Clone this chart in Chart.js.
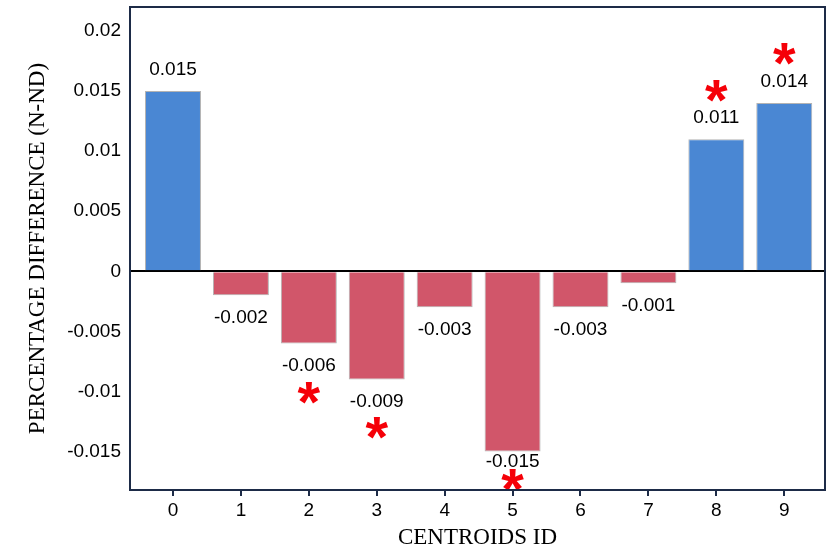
<!DOCTYPE html>
<html>
<head>
<meta charset="utf-8">
<script src="https://cdn.jsdelivr.net/npm/chart.js@4"></script>
<style>
  html, body { margin: 0; padding: 0; background: #fff; }
  #wrap { width: 836px; height: 553px; }
</style>
</head>
<body>
<div id="wrap"><canvas id="grafico" width="836" height="553"></canvas></div>
<script>
// datos
const centroides = [0, 1, 2, 3, 4, 5, 6, 7, 8, 9];
const diferencias = [0.015, -0.002, -0.006, -0.009, -0.003, -0.015, -0.003, -0.001, 0.011, 0.014];
const etiquetas = ['0.015', '-0.002', '-0.006', '-0.009', '-0.003', '-0.015', '-0.003', '-0.001', '0.011', '0.014'];
// posicion (en unidades del eje y) de los asteriscos de significancia, null = sin asterisco
const asteriscos = [null, null, -0.0101, -0.0130, null, -0.0174, null, null, 0.0150, 0.0181];
const ticksY = [0.02, 0.015, 0.01, 0.005, 0, -0.005, -0.01, -0.015];
const ticksX = [0, 1, 2, 3, 4, 5, 6, 7, 8, 9];

const AZUL = '#4a87d3';
const ROJO = '#d1566a';
const MARCO = '#1d2b47';
const FUENTE = '"Liberation Sans", Arial, sans-serif';
const FUENTE_TITULO = '"Liberation Serif", "Times New Roman", serif';

// ==================== PLUGIN: MARCO, ETIQUETAS Y ASTERISCOS ====================
const pluginExtras = {
    id: 'extras',
    afterDatasetsDraw(chart) {
        const ctx = chart.ctx;
        const area = chart.chartArea;
        const meta = chart.getDatasetMeta(0);
        const sx = chart.scales.x;
        const sy = chart.scales.y;

        ctx.save();
        // etiquetas de valor (las de abajo no bajan de cierto limite para no pisar el eje)
        ctx.font = '19px ' + FUENTE;
        ctx.fillStyle = '#000';
        ctx.textAlign = 'center';
        ctx.textBaseline = 'middle';
        meta.data.forEach((bar, i) => {
            const v = diferencias[i];
            const y = v >= 0 ? bar.y - 21 : Math.min(bar.y + 22, area.bottom - 28);
            ctx.fillText(etiquetas[i], bar.x, y);
        });

        // asteriscos rojos (centrados en su valor)
        ctx.font = 'bold 58px ' + FUENTE;
        ctx.fillStyle = '#f50008';
        ctx.textBaseline = 'alphabetic';
        const m = ctx.measureText('*');
        const off = (m.actualBoundingBoxAscent - m.actualBoundingBoxDescent) / 2;
        asteriscos.forEach((a, i) => {
            if (a === null) return;
            ctx.fillText('*', sx.getPixelForValue(centroides[i]), sy.getPixelForValue(a) + off);
        });

        // marco
        ctx.strokeStyle = MARCO;
        ctx.lineWidth = 2;
        ctx.strokeRect(area.left, area.top, area.right - area.left, area.bottom - area.top);
        ctx.restore();
    }
};

// ==================== CREAR GRAFICO ====================
const ctx = document.getElementById('grafico');
new Chart(ctx, {
    type: 'bar',
    data: {
        datasets: [{
            data: centroides.map((c, i) => ({ x: c, y: diferencias[i] })),
            backgroundColor: diferencias.map(v => v >= 0 ? AZUL : ROJO),
            borderColor: '#b3b3b3',
            borderWidth: 1,
            barPercentage: 0.824,
            categoryPercentage: 1
        }]
    },
    options: {
        responsive: false,
        animation: false,
        layout: { padding: { top: 7, right: 11, left: 0, bottom: 0 } },
        plugins: {
            legend: { display: false },
            tooltip: { enabled: false }
        },
        scales: {
            x: {
                type: 'linear',
                offset: false,
                min: -0.633,
                max: 9.6,
                afterBuildTicks: s => { s.ticks = ticksX.map(v => ({ value: v })); },
                afterFit: s => { s.height = 63; s.paddingLeft = 0; s.paddingRight = 0; },
                grid: {
                    offset: false,
                    drawOnChartArea: false,
                    drawTicks: true,
                    tickLength: 6,
                    color: MARCO,
                    lineWidth: 2
                },
                border: { display: true, color: MARCO, width: 2 },
                ticks: {
                    color: '#000',
                    padding: 3,
                    font: { family: FUENTE, size: 19 },
                    callback: v => String(v)
                },
                title: {
                    display: true,
                    text: 'CENTROIDS ID',
                    color: '#000',
                    font: { family: FUENTE_TITULO, size: 23 },
                    padding: { top: 0, bottom: 1 }
                }
            },
            y: {
                min: -0.0182,
                max: 0.022,
                afterBuildTicks: s => { s.ticks = ticksY.map(v => ({ value: v })); },
                afterFit: s => { s.width = 130; s.paddingTop = 0; s.paddingBottom = 0; },
                grid: {
                    drawTicks: false,
                    color: c => c.tick && c.tick.value === 0 ? '#000' : 'rgba(0,0,0,0)',
                    lineWidth: 2
                },
                border: { display: true, color: MARCO, width: 2 },
                ticks: {
                    color: '#000',
                    padding: 9,
                    font: { family: FUENTE, size: 19 },
                    callback: v => String(v)
                },
                title: {
                    display: true,
                    text: 'PERCENTAGE DIFFERENCE (N-ND)',
                    color: '#000',
                    font: { family: FUENTE_TITULO, size: 23 },
                    padding: { top: 24, bottom: 0 }
                }
            }
        }
    },
    plugins: [pluginExtras]
});
</script>
</body>
</html>
